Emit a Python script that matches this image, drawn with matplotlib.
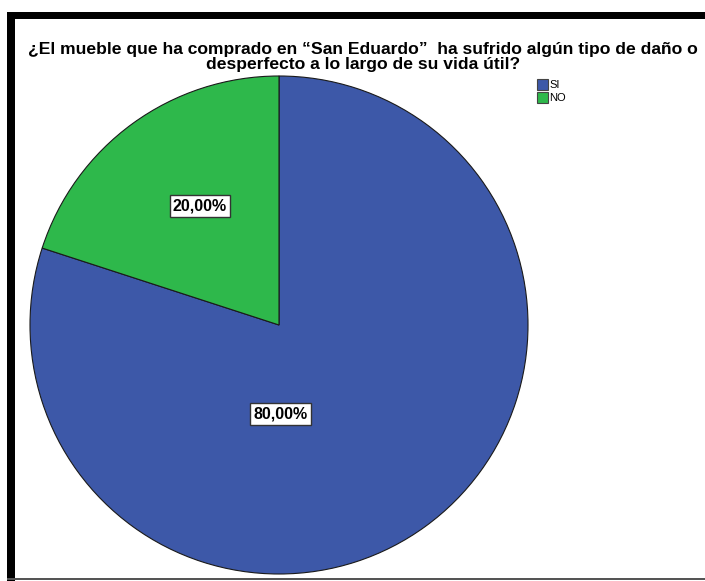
import matplotlib
matplotlib.use("Agg")
import matplotlib.pyplot as plt
from matplotlib.patches import Patch, Rectangle

# respuestas de la encuesta
categorias = ["SI", "NO"]
porcentajes = [80.0, 20.0]
colores = ["#3D58A8", "#2EB84B"]

titulo = ("¿El mueble que ha comprado en “San Eduardo”  ha sufrido algún tipo de daño o\n"
          "desperfecto a lo largo de su vida útil?")

W, H = 705, 581
plt.rcParams["font.family"] = ["Liberation Sans", "DejaVu Sans"]

fig = plt.figure(figsize=(W / 100, H / 100), dpi=100)
fig.patch.set_facecolor("white")

# marco negro arriba e izquierda, gris fino abajo
fig.add_artist(Rectangle((7 / W, 1 - 19 / H), 1, 7 / H, transform=fig.transFigure,
                         facecolor="black", edgecolor="none"))
fig.add_artist(Rectangle((7 / W, 0), 8 / W, 1 - 12 / H, transform=fig.transFigure,
                         facecolor="black", edgecolor="none"))
fig.add_artist(Rectangle((7 / W, 1 / H), 1, 2 / H, transform=fig.transFigure,
                         facecolor="#555555", edgecolor="none"))

cx, cy, r = 279, 325, 249
ax = fig.add_axes([(cx - r) / W, (H - cy - r) / H, 2 * r / W, 2 * r / H])
wedges, _ = ax.pie(porcentajes, colors=colores, startangle=90, counterclock=False,
                   wedgeprops=dict(edgecolor="#1a1a1a", linewidth=0.8))
ax.set_xlim(-1, 1)
ax.set_ylim(-1, 1)
ax.set_aspect("equal")
ax.axis("off")
for w in wedges:
    w.set_clip_on(False)

# etiquetas de porcentaje
pos_etiquetas = [(0.005, -0.358), (-0.318, 0.478)]
for valor, (x, y) in zip(porcentajes, pos_etiquetas):
    ax.text(x, y, f"{valor:.2f}%".replace(".", ","), ha="center", va="center",
            fontsize=11.5, fontweight="bold",
            bbox=dict(boxstyle="square,pad=0.2", facecolor="white", edgecolor="#333333", linewidth=1))

fig.text(363 / W, 1 - 57 / H, titulo, ha="center", va="center", fontsize=12.6,
         fontweight="bold", linespacing=1.05)

handles = [Patch(facecolor=c, edgecolor="#444444", linewidth=0.8) for c in colores]
fig.legend(handles, categorias, loc="upper left", bbox_to_anchor=(537 / W, 1 - 79 / H),
           frameon=False, fontsize=8, handlelength=1.0, handleheight=1.15,
           handletextpad=0.1, labelspacing=0.12, borderpad=0, borderaxespad=0)

fig.savefig("out.png", dpi=100)
